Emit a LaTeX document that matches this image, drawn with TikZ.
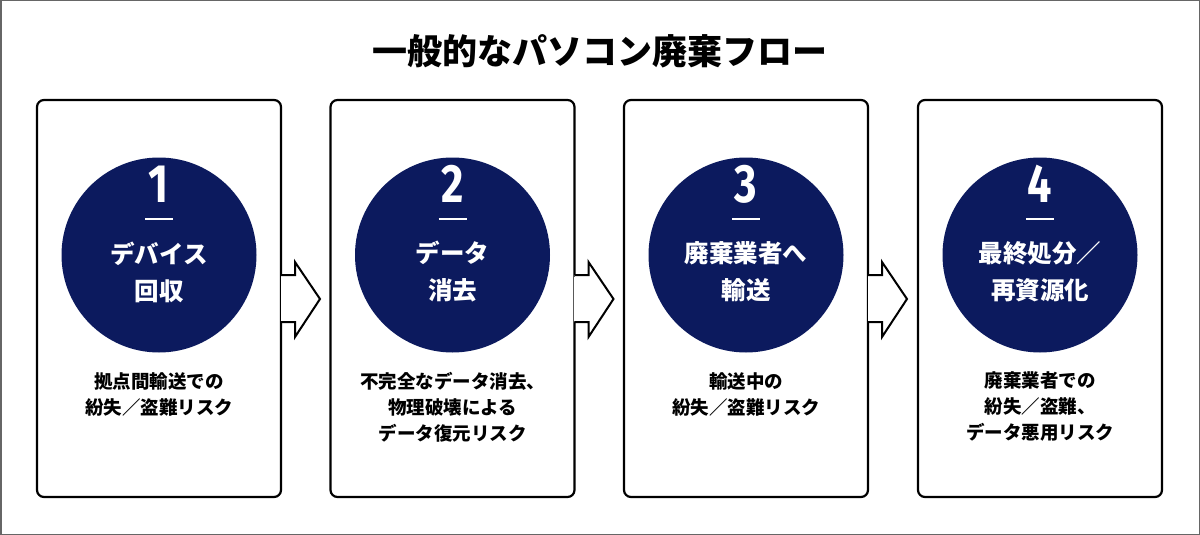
\documentclass[tikz,border=0pt]{standalone}
\usepackage{fontspec}
\setmainfont{Noto Sans CJK JP}
\newfontfamily\numf{Fira Sans}
\definecolor{navy}{HTML}{0C1A5E}
\begin{document}
\begin{tikzpicture}[x=1pt,y=-1pt,
  card/.style={draw=black,line width=2.2pt,fill=white,rounded corners=7pt},
  circ/.style={circle,fill=navy,minimum size=195pt,inner sep=0},
  num/.style={text=white,font=\numf\bfseries\fontsize{54}{54}\selectfont},
  lab/.style={text=white,align=center,font=\bfseries\fontsize{24.5}{37}\selectfont},
  desc/.style={align=center,font=\bfseries\fontsize{18.5}{26}\selectfont},
  arr/.style={draw=black,line width=2pt,fill=white,line join=miter}]
\path[use as bounding box,draw=gray!80!black,line width=1.5pt,fill=white] (0.75,0.75) rectangle (1199.25,534.25);
\node (title) at (600,51) {\bfseries\fontsize{35}{35}\selectfont 一般的なパソコン廃棄フロー};
\foreach \i/\x/\l/\d in {1/37/{デバイス\\回収}/{拠点間輸送での\\紛失／盗難リスク},
  2/330.5/{データ\\消去}/{不完全なデータ消去、\\物理破壊による\\データ復元リスク},
  3/624/{廃棄業者へ\\輸送}/{輸送中の\\紛失／盗難リスク},
  4/918/{最終処分／\\再資源化}/{廃棄業者での\\紛失／盗難、\\データ悪用リスク}}{
  \draw[card] (\x,100) rectangle ++(244,397);
  \node[circ] (c\i) at (\x+122,255) {};
  \node[num,xscale=0.8] (n\i) at (\x+122,184) {\i};
  \draw[white,line width=2.2pt] (\x+108,219) -- (\x+136,219);
  \node[lab] (l\i) at (\x+122,272) {\l};
  \ifnum\i=2 \node[desc] (d\i) at (\x+122,407) {\d};
  \else\ifnum\i=4 \node[desc] (d\i) at (\x+122,407) {\d};
  \else \node[desc] (d\i) at (\x+122,394) {\d};\fi\fi
}
\foreach \x in {282,575.5,869}{
  \draw[arr] (\x-1,275) -- (\x+13,275) -- (\x+13,262) -- (\x+38,299) -- (\x+13,337) -- (\x+13,322) -- (\x-1,322);
  \draw[white,line width=3pt] (\x,276.5) -- (\x,320.5);
}
\end{tikzpicture}
\end{document}
